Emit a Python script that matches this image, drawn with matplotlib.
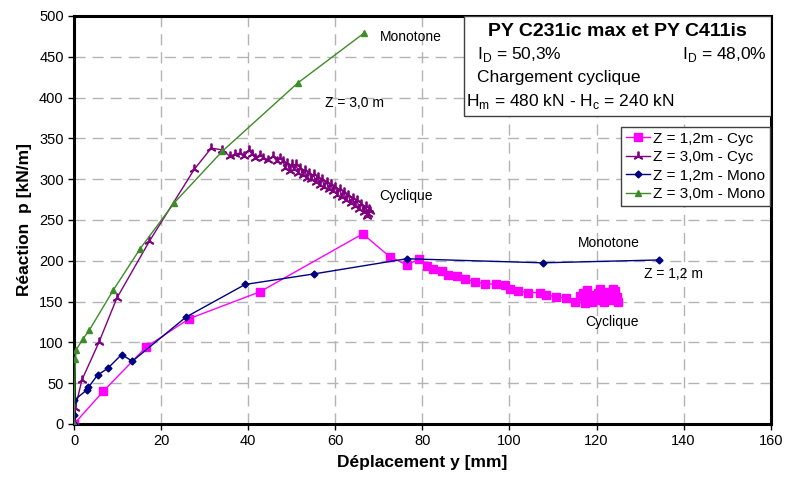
import matplotlib.pyplot as plt
from matplotlib.patches import Rectangle

plt.rcParams['font.family'] = ['Liberation Sans', 'DejaVu Sans']

# Z = 1,2m - Cyc
cyc12_x = [0, 6.7, 16.5, 26.4, 42.7, 66.3, 72.5, 76.4, 79.3, 81.0, 82.5, 84.4, 85.9, 87.9, 89.8,
           92.1, 94.4, 97.0, 98.9, 100.1, 102.0, 104.3, 107.0, 108.5, 110.8, 113.1, 115.0, 117.3,
           116.2, 118.6, 120.4, 122.3, 124.2, 123.1, 120.8, 118.9, 116.8, 119.4, 121.7, 123.8,
           124.8, 122.6, 120.2, 117.9, 121.0, 123.4, 125.0, 119.0, 117.5, 122.0, 124.5]
cyc12_y = [0, 40, 94, 129, 162, 233, 205, 195, 202, 193, 190, 187, 183, 181, 178,
           174, 172, 171, 170, 165, 163, 161, 161, 158, 156, 154, 150, 148,
           157, 152, 160, 155, 163, 152, 165, 150, 161, 158, 149, 166,
           156, 162, 152, 164, 153, 159, 150, 155, 152, 158, 152]

# Z = 3,0m - Cyc
cyc30_x = [0, 0.3, 1.8, 5.7, 9.8, 17.3, 27.6, 31.5, 34.0, 35.8, 37.0, 38.1, 39.0, 40.2, 40.8,
           41.6, 42.7, 43.5, 44.6, 45.8, 46.5, 47.3,
           48.0, 48.5, 49.0, 49.5, 50.0, 50.5, 51.0, 51.5, 52.0, 52.5, 53.0, 53.5, 54.0, 54.5,
           55.0, 55.5, 56.0, 56.5, 57.0, 57.5, 58.0, 58.5, 59.0, 59.5, 60.0, 60.5, 61.0, 61.5,
           62.0, 62.5, 63.0, 63.5, 64.0, 64.5, 65.0, 65.5, 66.0, 66.5, 67.0, 67.5, 67.8, 67.2, 68.0]
cyc30_y = [0, 20, 54, 100, 154, 224, 312, 338, 336, 328, 331, 332, 328, 336, 331,
           326, 330, 326, 324, 328, 322, 326,
           322, 314, 320, 310, 319, 312, 318, 308, 314, 305, 311, 302, 308, 300,
           306, 296, 303, 293, 300, 291, 297, 288, 294, 285, 291, 281, 288, 278,
           284, 274, 281, 271, 277, 267, 274, 264, 270, 260, 267, 257, 264, 255, 261]

# Z = 1,2m - Mono
mono12_x = [0, 0, 0, 3.0, 3.3, 5.4, 7.7, 10.9, 13.4, 25.7, 39.3, 55.2, 76.4, 107.6, 134.4]
mono12_y = [0, 11, 29, 42, 45, 60, 68, 85, 77, 131, 171, 184, 202.5, 197.5, 201]

# Z = 3,0m - Mono
mono30_x = [0, 0.3, 0.5, 2.0, 3.5, 9.0, 15.2, 23.0, 34.0, 51.4, 66.6]
mono30_y = [0, 80, 91, 104, 115, 164, 215, 271, 334, 418, 479]

fig = plt.figure(figsize=(7.88, 4.84), dpi=100)
ax = fig.add_axes([0.094, 0.124, 0.884, 0.843])

ax.plot(cyc12_x, cyc12_y, color='#ff00ff', lw=1, marker='s', ms=5.5, label='Z = 1,2m - Cyc', zorder=3)
ax.plot(cyc30_x, cyc30_y, color='#800080', lw=1, marker=(3, 2, 0), ms=7, mew=1.3, label='Z = 3,0m - Cyc', zorder=3)
ax.plot(mono12_x, mono12_y, color='#000080', lw=1, marker='D', ms=3.5, label='Z = 1,2m - Mono', zorder=4)
ax.plot(mono30_x, mono30_y, color='#3c8c28', lw=1, marker='^', ms=5, label='Z = 3,0m - Mono', zorder=4)

ax.set_xlim(0, 160)
ax.set_ylim(0, 500)
ax.set_xticks(range(0, 161, 20))
ax.set_yticks(range(0, 501, 50))
ax.tick_params(labelsize=10.5, direction='out', length=4, width=1)
ax.grid(True, color='#b4b4b4', linestyle=(0, (8, 5)), lw=1)
ax.set_axisbelow(True)
for s in ax.spines.values():
    s.set_linewidth(2.2)

ax.set_xlabel('Déplacement y [mm]', fontsize=12.5, fontweight='bold', labelpad=5)
ax.set_ylabel('Réaction  p [kN/m]', fontsize=12.5, fontweight='bold', labelpad=5)

# curve annotations
ax.text(70.2, 474, 'Monotone', fontsize=10, va='center')
ax.text(57.6, 393, 'Z = 3,0 m', fontsize=10, va='center')
ax.text(70.2, 279, 'Cyclique', fontsize=10, va='center')
ax.text(115.7, 222, 'Monotone', fontsize=10, va='center')
ax.text(131, 184, 'Z = 1,2 m', fontsize=10, va='center')
ax.text(117.3, 125, 'Cyclique', fontsize=10, va='center')

# title box
ax.add_patch(Rectangle((0.56, 0.755), 0.44, 0.245, transform=ax.transAxes,
                       facecolor='white', edgecolor='#404040', lw=1, zorder=5))
ax.text(0.78, 0.963, 'PY C231ic max et PY C411is', transform=ax.transAxes, fontsize=14,
        fontweight='bold', ha='center', va='center', zorder=6)
ax.text(0.578, 0.905, r'I$_\mathregular{D}$ = 50,3%', transform=ax.transAxes, fontsize=12.5,
        va='center', zorder=6)
ax.text(0.994, 0.905, r'I$_\mathregular{D}$ = 48,0%', transform=ax.transAxes, fontsize=12.5,
        va='center', ha='right', zorder=6)
ax.text(0.578, 0.848, 'Chargement cyclique', transform=ax.transAxes, fontsize=12.5,
        va='center', zorder=6)
ax.text(0.563, 0.79, r'H$_\mathregular{m}$ = 480 kN - H$_\mathregular{c}$ = 240 kN',
        transform=ax.transAxes, fontsize=12.5, va='center', zorder=6)

leg = ax.legend(loc='upper right', bbox_to_anchor=(0.999, 0.728), fontsize=11, handlelength=1.6,
                handletextpad=0.2, borderpad=0.3, labelspacing=0.3, fancybox=False,
                framealpha=1, edgecolor='#404040', borderaxespad=0)
leg.get_frame().set_linewidth(1)
leg.set_zorder(6)

fig.savefig('out.png', dpi=100)
